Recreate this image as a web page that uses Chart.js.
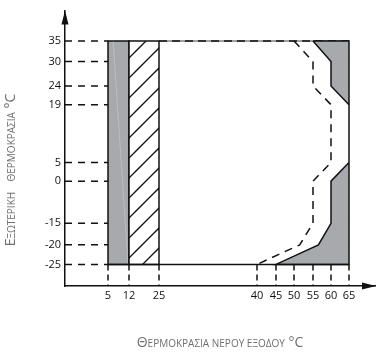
<!DOCTYPE html>
<html>
<head>
<meta charset="utf-8">
<script src="https://cdn.jsdelivr.net/npm/chart.js@4"></script>
<style>
  html, body { margin: 0; padding: 0; background: #fff; }
</style>
</head>
<body>
<canvas id="chart" width="376" height="353"></canvas>
<script>
// ─── Data ─────────────────────────────────────────────────────────────────────
// x: leaving water temperature °C, y: outdoor temperature °C

const waterTicks   = [5, 12, 25, 40, 45, 50, 55, 60, 65];
const outdoorTicks = [-25, -20, -15, 0, 5, 19, 24, 30, 35];

const grayBand    = [5, 12];     // shaded strip
const hatchBand   = [12, 25];    // hatched strip
const outdoorSpan = [-25, 35];
const waterMax    = 65;

// solid limit (edge of the gray zone on the right)
const limitWater   = [55, 60, 60, 65, 65, 60, 60, 56.5, 45];
const limitOutdoor = [35, 30, 24, 19, 5, 0, -15, -20, -25];

// dashed limit
const dashWater    = [50, 55, 55, 60, 60, 55, 55, 51.5, 40];
const dashOutdoor  = [35, 30, 24, 19, 5, 0, -15, -20, -25];

// ─── Axis spacing ─────────────────────────────────────────────────────────────
// The printed axes are not evenly spaced, so each value is pinned to its
// place along the axis (distance from the origin) and interpolated between.

const xStops = { val: [0, 5, 12, 25, 40, 45, 50, 55, 60, 65], at: [0, 43, 64, 94, 192, 211, 229, 248, 266, 284] };
const yStops = { val: [-30, -25, -20, -15, 0, 5, 19, 24, 30, 35], at: [0, 22, 42, 64, 107, 126, 185, 204, 229, 250] };

function warp(stops, v) {
  const { val, at } = stops;
  let i = 1;
  while (i < val.length - 1 && v > val[i]) i++;
  const t = (v - val[i - 1]) / (val[i] - val[i - 1]);
  return at[i - 1] + t * (at[i] - at[i - 1]);
}

const pt = (w, o) => ({ x: warp(xStops, w), y: warp(yStops, o) });
const xOrigin = xStops.val[0];
const yOrigin = yStops.val[0];

const rect = (x0, x1, y0, y1) => [pt(x0, y0), pt(x0, y1), pt(x1, y1), pt(x1, y0), pt(x0, y0)];

// ─── Styles ───────────────────────────────────────────────────────────────────

const INK   = '#111';
const GRAY  = '#a8a9ad';
const TITLE = '#6f6f6f';
const FONT  = '"Open Sans", "DejaVu Sans", sans-serif';

function hatchPattern() {
  const c = document.createElement('canvas');
  c.width = c.height = 20;
  const g = c.getContext('2d');
  g.fillStyle = '#fff';
  g.fillRect(0, 0, 20, 20);
  g.strokeStyle = INK;
  g.lineWidth = 1.3;
  for (const k of [-13, 7, 27]) {
    g.beginPath();
    g.moveTo(k + 6, -6);
    g.lineTo(-6, k + 6);
    g.stroke();
  }
  return g.createPattern(c, 'repeat');
}

const base = { pointRadius: 0, tension: 0, fill: false, borderWidth: 1.5, borderColor: INK };

// ─── Datasets (first in list is drawn on top) ─────────────────────────────────

const guidesH = outdoorTicks.map(o => ({
  ...base,
  data: [pt(xOrigin, o), pt(grayBand[0], o)],
  borderDash: [7, 6],
}));

const guidesV = waterTicks.map(w => ({
  ...base,
  data: [pt(w, outdoorSpan[0]), pt(w, yOrigin)],
  borderDash: [6, 4],
}));

const limitPoly = limitWater.map((w, i) => pt(w, limitOutdoor[i]))
  .concat([pt(waterMax, outdoorSpan[0]), pt(waterMax, outdoorSpan[1]), pt(limitWater[0], limitOutdoor[0])]);

const datasets = [
  ...guidesH,
  ...guidesV,
  { ...base, data: [pt(grayBand[0], outdoorSpan[0]), pt(waterMax, outdoorSpan[0])] },
  { ...base, data: dashWater.map((w, i) => pt(w, dashOutdoor[i])), borderDash: [8, 6] },
  { ...base, data: limitPoly, fill: 'shape', backgroundColor: GRAY },
  { ...base, data: [pt(hatchBand[1], outdoorSpan[1]), pt(waterMax, outdoorSpan[1])], borderDash: [8, 5], borderWidth: 1.4 },
  { ...base, data: [pt(hatchBand[1], outdoorSpan[1]), pt(waterMax, outdoorSpan[1])], borderColor: '#444', borderWidth: 1.1 },
  { ...base, data: rect(hatchBand[0], hatchBand[1], outdoorSpan[0], outdoorSpan[1]), fill: 'shape', backgroundColor: hatchPattern() },
  { ...base, data: [pt(6.7, outdoorSpan[1]), pt(11.7, outdoorSpan[0])], borderColor: 'rgba(255,255,255,0.22)', borderWidth: 1 },
  { ...base, data: rect(grayBand[0], grayBand[1], outdoorSpan[0], outdoorSpan[1]), fill: 'shape', backgroundColor: GRAY },
];

// ─── Decorations: arrow heads and mixed-size axis titles ──────────────────────

function drawParts(ctx, parts, cx, cy) {
  const widths = parts.map(([t, s]) => { ctx.font = `${s}px ${FONT}`; return ctx.measureText(t).width; });
  let x = cx - widths.reduce((a, b) => a + b, 0) / 2;
  parts.forEach(([t, s], i) => {
    ctx.font = `${s}px ${FONT}`;
    ctx.fillText(t, x, cy);
    x += widths[i];
  });
}

const decor = {
  id: 'decor',
  afterDraw(chart) {
    const { ctx, chartArea: a } = chart;
    ctx.save();
    ctx.fillStyle = INK;
    ctx.beginPath();
    ctx.moveTo(a.left, a.top);
    ctx.lineTo(a.left - 3.5, a.top + 14);
    ctx.lineTo(a.left + 3.5, a.top + 14);
    ctx.fill();
    ctx.beginPath();
    ctx.moveTo(a.right, a.bottom);
    ctx.lineTo(a.right - 14, a.bottom - 3.5);
    ctx.lineTo(a.right - 14, a.bottom + 3.5);
    ctx.fill();

    ctx.fillStyle = TITLE;
    ctx.textBaseline = 'alphabetic';
    ctx.textAlign = 'left';
    drawParts(ctx, [['Θ', 14], ['ΕΡΜΟΚΡΑΣΙΑ ΝΕΡΟΥ ΕΞΟΔΟΥ', 10], [' °C', 14]], 220, 347);

    ctx.translate(15, 170);
    ctx.rotate(-Math.PI / 2);
    drawParts(ctx, [['Ε', 14], ['ΞΩΤΕΡΙΚΗ', 10], ['    ΘΕΡΜΟΚΡΑΣΙΑ', 10], [' °C', 14]], 0, 0);
    ctx.restore();
  },
};

// ─── Chart ────────────────────────────────────────────────────────────────────

const tickFont = { family: FONT, size: 11 };

new Chart(document.getElementById('chart'), {
  type: 'line',
  data: { datasets },
  plugins: [decor],
  options: {
    responsive: false,
    animation: false,
    layout: { padding: { top: 5, left: 0, right: 0, bottom: 0 } },
    plugins: { legend: { display: false }, tooltip: { enabled: false } },
    scales: {
      x: {
        type: 'linear',
        min: 0,
        max: 311,
        grid: { display: false, drawTicks: false },
        border: { display: true, color: INK, width: 1.5 },
        ticks: {
          font: tickFont, color: INK, padding: 3,
          autoSkip: false, maxRotation: 0, minRotation: 0,
          callback: (v, i) => waterTicks[i],
        },
        afterBuildTicks: s => { s.ticks = waterTicks.map(w => ({ value: warp(xStops, w) })); },
        afterFit: s => { s.height = 67; },
      },
      y: {
        type: 'linear',
        min: 0,
        max: 281,
        grid: { display: false, drawTicks: false },
        border: { display: true, color: INK, width: 1.5 },
        ticks: {
          font: tickFont, color: INK, padding: 4,
          autoSkip: false,
          callback: (v, i) => outdoorTicks[i],
        },
        afterBuildTicks: s => { s.ticks = outdoorTicks.map(o => ({ value: warp(yStops, o) })); },
        afterFit: s => { s.width = 65; },
      },
    },
  },
});
</script>
</body>
</html>
